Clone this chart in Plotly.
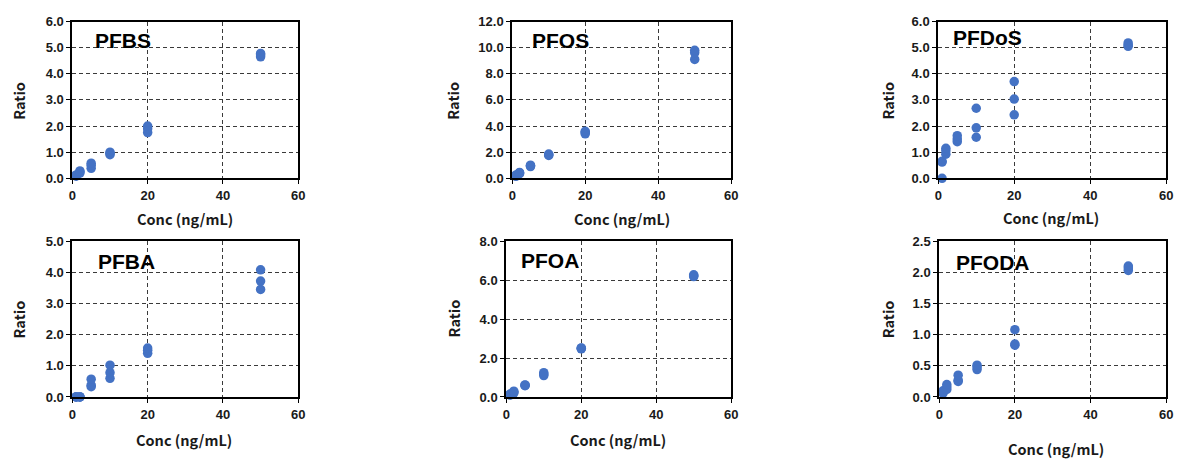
import plotly.graph_objects as go

W, H = 1187, 464

conc = [1, 1, 1, 2, 2, 2, 5, 5, 5, 10, 10, 10, 20, 20, 20, 50, 50, 50]

pfbs = [0.08, 0.10, 0.13, 0.20, 0.25, 0.28, 0.38, 0.50, 0.58, 0.90, 0.95, 1.00, 1.75, 1.90, 2.00, 4.65, 4.72, 4.78]
pfos = [0.15, 0.20, 0.25, 0.35, 0.40, 0.45, 0.90, 0.95, 1.00, 1.75, 1.80, 1.85, 3.40, 3.50, 3.60, 9.10, 9.60, 9.80]
pfdos = [0.00, 0.62, 0.65, 0.92, 1.05, 1.15, 1.40, 1.50, 1.63, 1.57, 1.93, 2.68, 2.43, 3.03, 3.70, 5.05, 5.10, 5.18]
pfba = [0.00, 0.00, 0.00, 0.00, 0.00, 0.00, 0.33, 0.38, 0.57, 0.60, 0.78, 1.02, 1.40, 1.50, 1.57, 3.45, 3.72, 4.08]
pfoa = [0.10, 0.12, 0.15, 0.20, 0.25, 0.30, 0.58, 0.60, 0.62, 1.10, 1.18, 1.25, 2.47, 2.50, 2.52, 6.18, 6.22, 6.27]
pfoda = [0.06, 0.08, 0.10, 0.12, 0.16, 0.20, 0.25, 0.27, 0.35, 0.44, 0.48, 0.51, 0.83, 0.85, 1.08, 2.03, 2.07, 2.10]

names = ["PFBS", "PFOS", "PFDoS", "PFBA", "PFOA", "PFODA"]
series = [pfbs, pfos, pfdos, pfba, pfoa, pfoda]
y_max = [6, 12, 6, 5, 8, 2.5]
y_step = [1, 2, 1, 1, 2, 0.5]
x_ticks = [0, 20, 40, 60]

# pixel boxes: (left, right, top, bottom)
boxes = [(69, 297, 15, 177), (513, 734, 15, 177), (943, 1173, 15, 177),
         (69, 297, 242, 403), (507, 734, 242, 403), (944, 1173, 242, 403)]
title_pos = [(90, 35), (531, 35), (956, 32), (93, 263), (520, 262), (959, 264)]
xlab_pos = [(183, 219), (624, 219), (1057, 218), (182, 447), (620, 447), (1062, 456)]
ylab_pos = [(15, 97), (453, 97), (892, 97), (15, 323), (454, 322), (892, 323)]

TICKFONT = dict(family="Liberation Sans, Arial", size=13, color="#1a1a1a", weight="bold")
LABFONT = dict(family="Noto Sans CJK JP", size=14.5, color="#1a1a1a", weight="bold")
TITLEFONT = dict(family="Liberation Sans, Arial", size=21, color="black", weight="bold")

fig = go.Figure()
annotations = []
for i, (nm, ys) in enumerate(zip(names, series)):
    k = "" if i == 0 else str(i + 1)
    fig.add_trace(go.Scatter(
        x=conc, y=ys, mode="markers", xaxis="x" + k, yaxis="y" + k,
        marker=dict(color="#4472C4", size=9.5), cliponaxis=False, showlegend=False,
    ))
    l, r, t, b = boxes[i]
    common = dict(showline=True, linecolor="black", linewidth=2, mirror=True,
                  ticks="outside", ticklen=4, tickcolor="black", tickwidth=1,
                  showgrid=True, gridcolor="#3a3a3a", griddash="4px,3px", gridwidth=1,
                  zeroline=False, tickfont=TICKFONT, fixedrange=True)
    fig.layout["xaxis" + k] = dict(common, domain=[l / W, r / W], anchor="y" + k,
                                   range=[0, 60], tickvals=x_ticks)
    n = int(round(y_max[i] / y_step[i]))
    yt = [round(j * y_step[i], 2) for j in range(n + 1)]
    fig.layout["yaxis" + k] = dict(common, domain=[1 - b / H, 1 - t / H], anchor="x" + k,
                                   range=[0, y_max[i]], tickvals=yt,
                                   ticktext=[f"{v:.1f}" for v in yt])
    tx, ty = title_pos[i]
    annotations.append(dict(text=nm, x=tx / W, y=1 - ty / H, xref="paper", yref="paper",
                            xanchor="left", yanchor="middle", showarrow=False, font=TITLEFONT))
    lx, ly = xlab_pos[i]
    annotations.append(dict(text="Conc (ng/mL)", x=lx / W, y=1 - ly / H, xref="paper", yref="paper",
                            xanchor="center", yanchor="middle", showarrow=False, font=LABFONT))
    rx, ry = ylab_pos[i]
    annotations.append(dict(text="Ratio", x=rx / W, y=1 - ry / H, xref="paper", yref="paper",
                            xanchor="center", yanchor="middle", showarrow=False, textangle=-90,
                            font=LABFONT))

fig.update_layout(width=W, height=H, margin=dict(l=0, r=0, t=0, b=0),
                  paper_bgcolor="white", plot_bgcolor="white", annotations=annotations)

fig.write_html(
    "out.html",
    config={"displayModeBar": False},
    post_script="document.body.style.margin='0';document.body.style.overflow='hidden';",
)
